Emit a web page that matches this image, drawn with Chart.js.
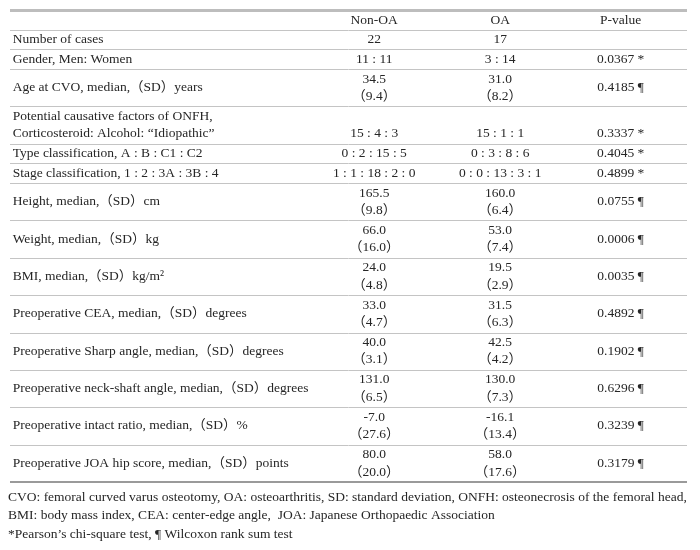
<!DOCTYPE html>
<html>
<head>
<meta charset="utf-8">
<script src="https://cdn.jsdelivr.net/npm/chart.js@4/dist/chart.umd.min.js"></script>
<style>
  html, body { margin: 0; padding: 0; background: #fff; }
  #wrap { width: 700px; height: 550px; position: relative; }
</style>
</head>
<body>
<div id="wrap"><canvas id="tableChart"></canvas></div>
<script>
// table content
const headers = ["Non-OA", "OA", "P-value"];
const characteristics = [
  ["Number of cases"],
  ["Gender, Men: Women"],
  ["Age at CVO, median,（SD）years"],
  ["Potential causative factors of ONFH,", "Corticosteroid: Alcohol: “Idiopathic”"],
  ["Type classification, A : B : C1 : C2"],
  ["Stage classification, 1 : 2 : 3A : 3B : 4"],
  ["Height, median,（SD）cm"],
  ["Weight, median,（SD）kg"],
  ["BMI, median,（SD）kg/m²"],
  ["Preoperative CEA, median,（SD）degrees"],
  ["Preoperative Sharp angle, median,（SD）degrees"],
  ["Preoperative neck-shaft angle, median,（SD）degrees"],
  ["Preoperative intact ratio, median,（SD）%"],
  ["Preoperative JOA hip score, median,（SD）points"],
];
const nonOAValues = ["22", "11 : 11", "34.5", "15 : 4 : 3", "0 : 2 : 15 : 5", "1 : 1 : 18 : 2 : 0",
  "165.5", "66.0", "24.0", "33.0", "40.0", "131.0", "-7.0", "80.0"];
const nonOASD = [null, null, "9.4", null, null, null, "9.8", "16.0", "4.8", "4.7", "3.1", "6.5", "27.6", "20.0"];
const oaValues = ["17", "3 : 14", "31.0", "15 : 1 : 1", "0 : 3 : 8 : 6", "0 : 0 : 13 : 3 : 1",
  "160.0", "53.0", "19.5", "31.5", "42.5", "130.0", "-16.1", "58.0"];
const oaSD = [null, null, "8.2", null, null, null, "6.4", "7.4", "2.9", "6.3", "4.2", "7.3", "13.4", "17.6"];
const pValues = ["", "0.0367 *", "0.4185 ¶", "0.3337 *", "0.4045 *", "0.4899 *", "0.0755 ¶",
  "0.0006 ¶", "0.0035 ¶", "0.4892 ¶", "0.1902 ¶", "0.6296 ¶", "0.3239 ¶", "0.3179 ¶"];
const footnotes = [
  "CVO: femoral curved varus osteotomy, OA: osteoarthritis, SD: standard deviation, ONFH: osteonecrosis of the femoral head,",
  "BMI: body mass index, CEA: center-edge angle,  JOA: Japanese Orthopaedic Association",
  "*Pearson’s chi-square test, ¶ Wilcoxon rank sum test",
];

// row heights in "line" units, tall rows hold two lines
const TALL = 1.9;
const rowUnits = characteristics.map((lab, i) =>
  (lab.length > 1 || nonOASD[i] !== null) ? TALL : 1);
const rowStart = [];
let acc = 1; // header row takes one unit
rowUnits.forEach((u) => { rowStart.push(acc); acc += u; });
const totalUnits = acc;

// horizontal positions (percent of table width)
const colLabelX = 0.4;
const colCenters = [53.8, 72.4, 90.2];

const FONT = "13.5px 'Liberation Serif', 'Times New Roman', 'Noto Sans CJK JP', serif";
const TEXT = "#262626";

const tablePlugin = {
  id: "tablePlugin",
  afterDraw(chart) {
    const { ctx, chartArea } = chart;
    const x = chart.scales.x;
    const y = chart.scales.y;
    const left = x.getPixelForValue(0);
    const right = x.getPixelForValue(100);
    const line = (v, w, c) => {
      const py = Math.round(y.getPixelForValue(v)) + (w % 2 ? 0.5 : 0);
      ctx.save();
      ctx.strokeStyle = c;
      ctx.lineWidth = w;
      ctx.beginPath();
      ctx.moveTo(left, py);
      ctx.lineTo(right, py);
      ctx.stroke();
      ctx.restore();
    };
    ctx.save();
    ctx.font = FONT;
    ctx.fillStyle = TEXT;
    ctx.textBaseline = "middle";

    // header
    ctx.textAlign = "center";
    headers.forEach((h, j) => ctx.fillText(h, x.getPixelForValue(colCenters[j]), y.getPixelForValue(0.55)));

    const half = 0.44;
    characteristics.forEach((lab, i) => {
      const mid = rowStart[i] + rowUnits[i] / 2;
      // label
      ctx.textAlign = "left";
      if (lab.length > 1) {
        ctx.fillText(lab[0], x.getPixelForValue(colLabelX), y.getPixelForValue(mid - half));
        ctx.fillText(lab[1], x.getPixelForValue(colLabelX), y.getPixelForValue(mid + half));
      } else {
        ctx.fillText(lab[0], x.getPixelForValue(colLabelX), y.getPixelForValue(mid));
      }
      // values
      ctx.textAlign = "center";
      const vy = lab.length > 1 ? mid + half : mid;
      const cells = [[nonOAValues[i], nonOASD[i]], [oaValues[i], oaSD[i]]];
      cells.forEach(([v, sd], j) => {
        const cx = x.getPixelForValue(colCenters[j]);
        if (sd !== null) {
          ctx.fillText(v, cx, y.getPixelForValue(mid - half));
          ctx.fillText("（" + sd + "）", cx, y.getPixelForValue(mid + half));
        } else {
          ctx.fillText(v, cx, y.getPixelForValue(vy));
        }
      });
      ctx.fillText(pValues[i], x.getPixelForValue(colCenters[2]), y.getPixelForValue(vy));
    });

    // rules
    line(0, 3, "#bdbdbd");
    line(1, 1, "#c4c4c4");
    rowStart.forEach((s, i) => {
      if (i < rowStart.length - 1) line(s + rowUnits[i], 1, "#c4c4c4");
    });
    line(totalUnits, 2, "#9a9a9a");

    // footnotes
    ctx.textAlign = "left";
    ctx.font = FONT;
    footnotes.forEach((f, k) => {
      ctx.fillText(f, left - 2, chartArea.bottom + 15 + k * 18.5);
    });
    ctx.restore();
  },
};

new Chart(document.getElementById("tableChart"), {
  type: "scatter",
  data: { datasets: [{ data: [], pointRadius: 0 }] },
  options: {
    responsive: true,
    maintainAspectRatio: false,
    animation: false,
    events: [],
    layout: { padding: { left: 10, right: 13, top: 10, bottom: 68 } },
    plugins: { legend: { display: false }, tooltip: { enabled: false } },
    scales: {
      x: { type: "linear", min: 0, max: 100, display: false },
      y: { type: "linear", min: 0, max: totalUnits, reverse: true, display: false },
    },
  },
  plugins: [tablePlugin],
});
</script>
</body>
</html>
